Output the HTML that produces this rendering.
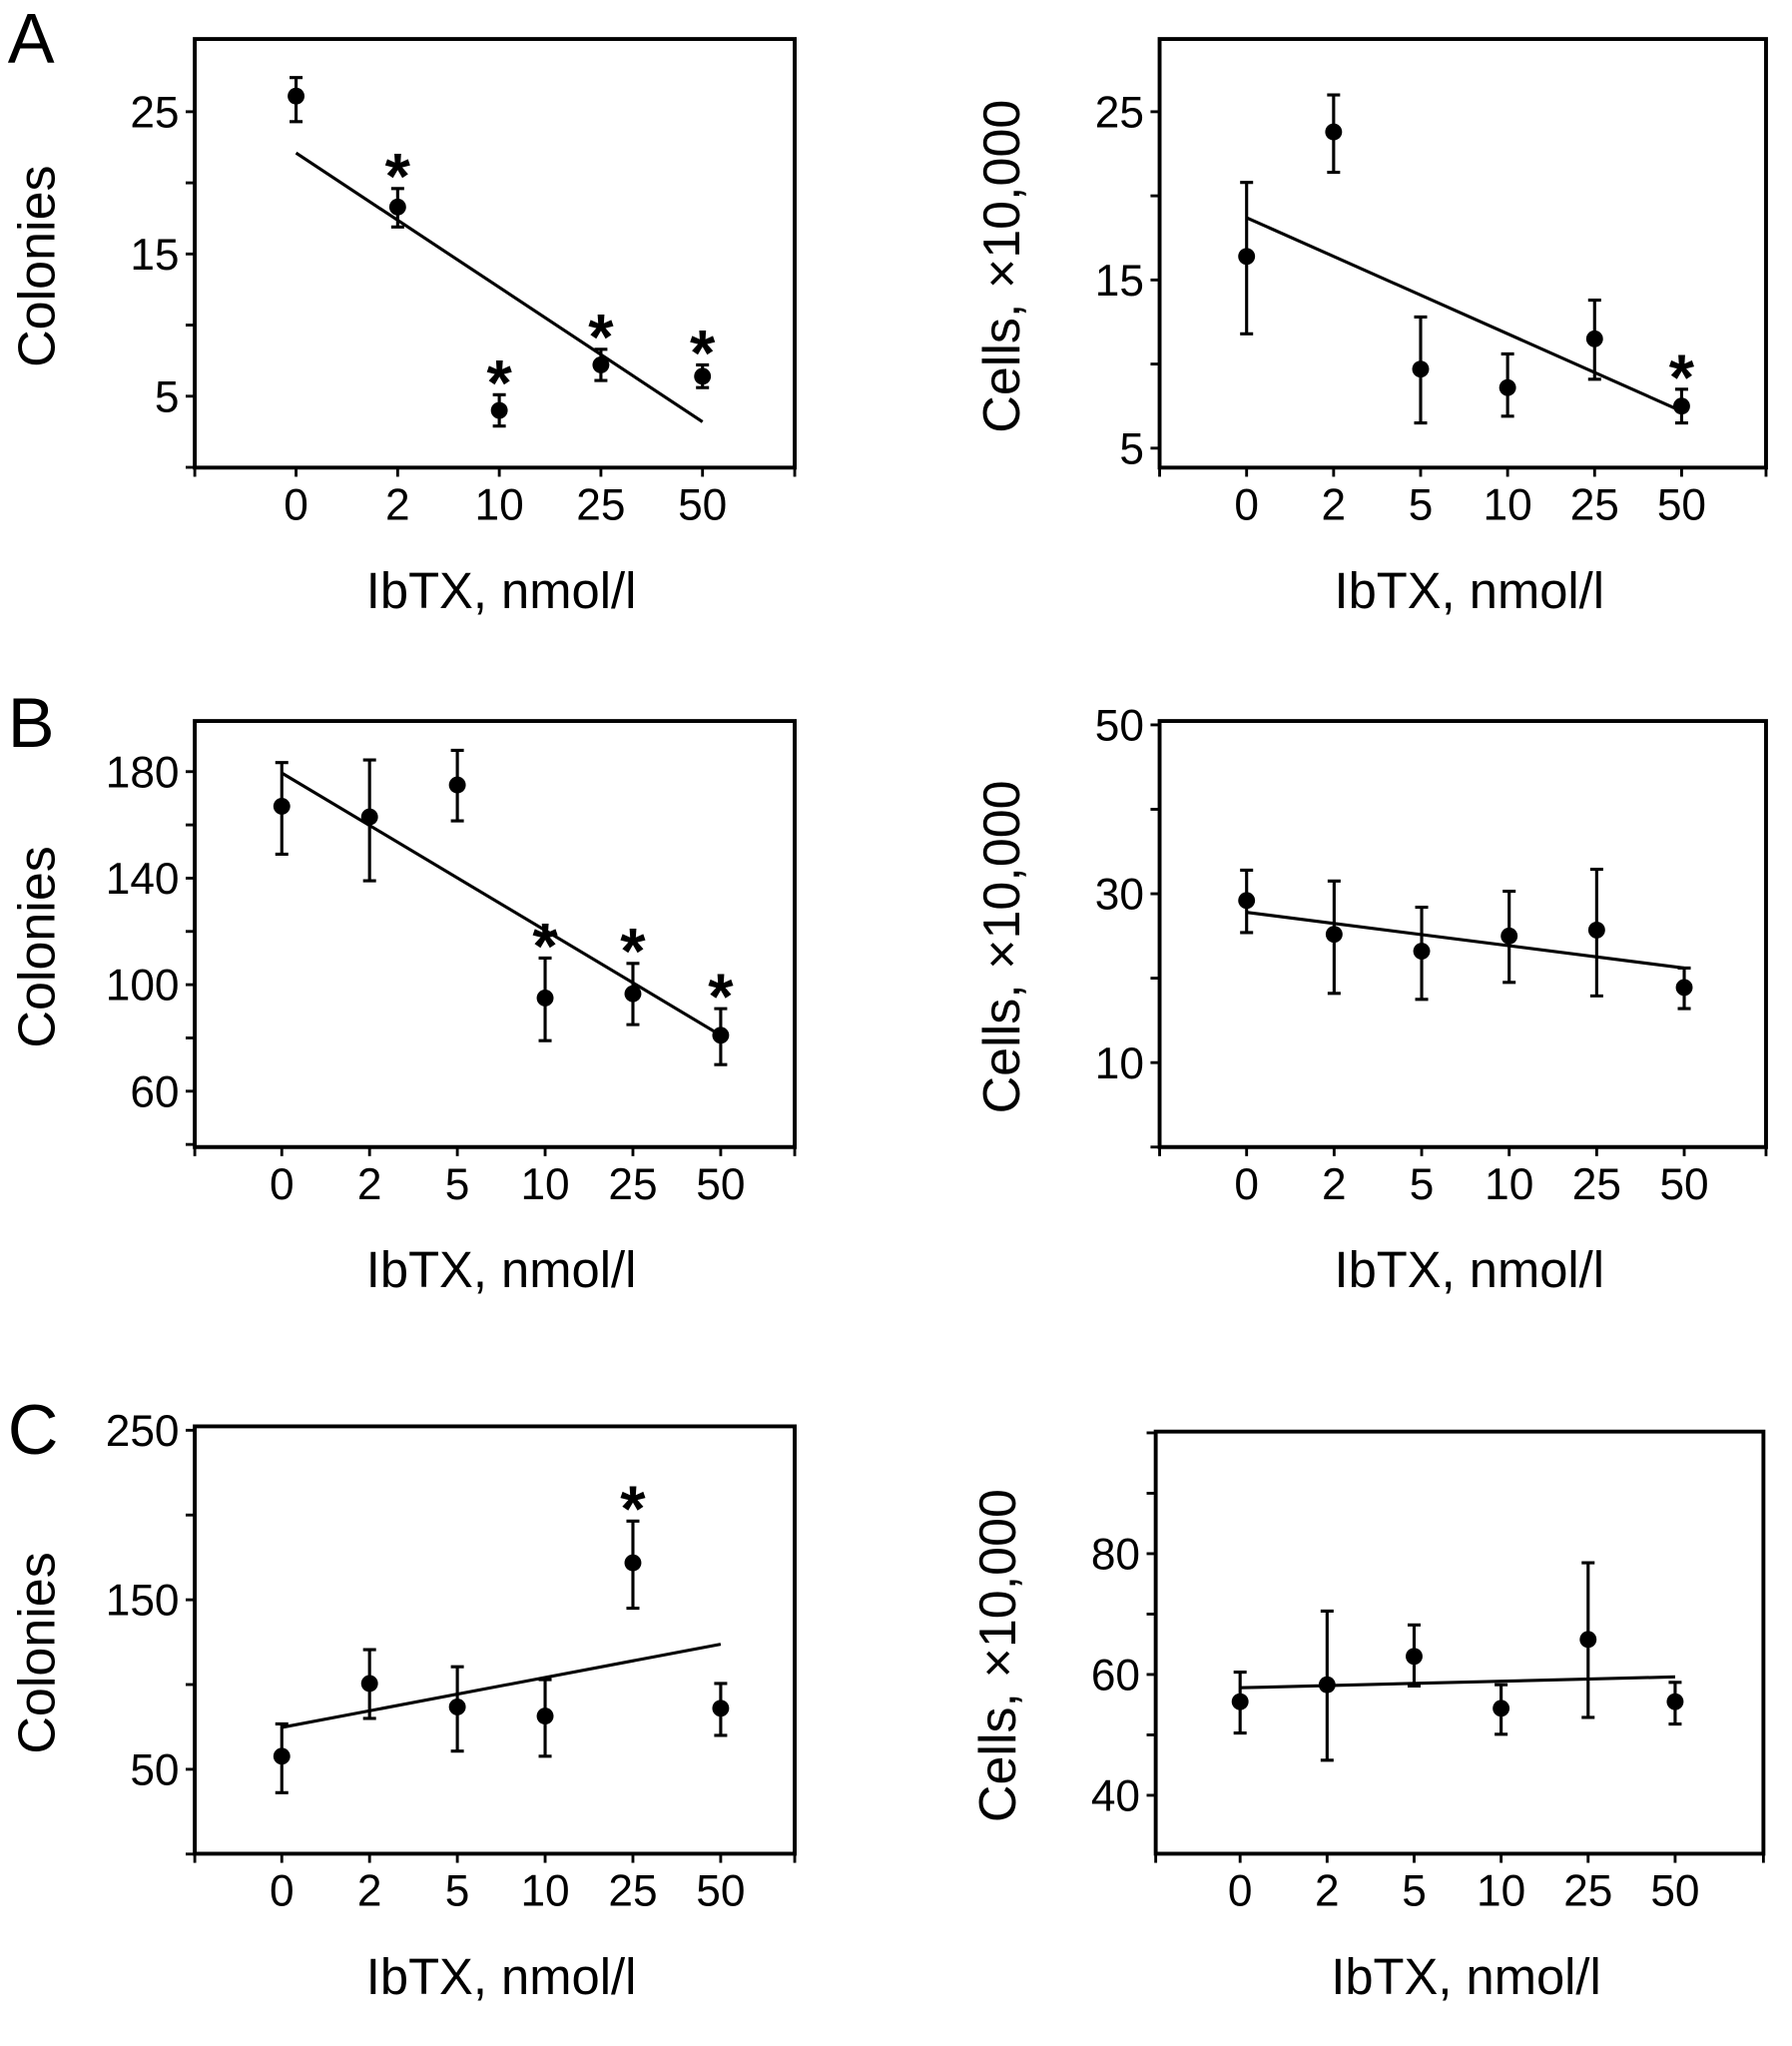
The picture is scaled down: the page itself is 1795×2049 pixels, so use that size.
<!DOCTYPE html>
<html><head><meta charset="utf-8"><style>
html,body{margin:0;padding:0;background:#fff;}
svg{display:block;font-family:"Liberation Sans",Arial,sans-serif;}
</style></head><body>
<svg id="fig" width="1795" height="2049" viewBox="0 0 1380 1575" preserveAspectRatio="none">
<text x="6" y="48" font-size="54">A</text>
<text x="6" y="575" font-size="54">B</text>
<text x="6" y="1119" font-size="54">C</text>
</svg>
<script>
const catsA1 = ["0","2","10","25","50"];
const catsFull = ["0","2","5","10","25","50"];
const valsA1 = [26.1,18.3,4.0,7.2,6.4];
const errHiA1 = [27.4,19.6,5.1,8.3,7.2];
const errLoA1 = [24.3,16.9,2.9,6.1,5.6];
const fitA1 = [22.1,3.2];
const starsA1 = [false,true,true,true,true];
const valsA2 = [16.4,23.8,9.7,8.6,11.5,7.5];
const errHiA2 = [20.8,26.0,12.8,10.6,13.8,8.5];
const errLoA2 = [11.8,21.4,6.5,6.9,9.1,6.5];
const fitA2 = [18.7,7.2];
const starsA2 = [false,false,false,false,false,true];
const valsB1 = [167,163,175,95,96.6,81];
const errHiB1 = [183.4,184.4,188,110,108,91];
const errLoB1 = [149,139,161.5,79,85,70];
const fitB1 = [179.5,81];
const starsB1 = [false,false,false,true,true,true];
const valsB2 = [29.2,25.2,23.2,25.0,25.7,18.9];
const errHiB2 = [32.8,31.5,28.4,30.3,32.9,21.2];
const errLoB2 = [25.4,18.2,17.5,19.5,17.9,16.4];
const fitB2 = [27.8,21.2];
const starsB2 = [false,false,false,false,false,false];
const valsC1 = [57.7,100.6,86.8,81.4,171.8,86];
const errHiC1 = [76.8,120.6,110.5,102.9,196.4,100.6];
const errLoC1 = [36.2,80,60.7,57.7,145,70];
const fitC1 = [74.7,123.8];
const starsC1 = [false,false,false,false,true,false];
const valsC2 = [55.5,58.3,63.0,54.4,65.8,55.5];
const errHiC2 = [60.4,70.5,68.2,58.3,78.5,58.7];
const errLoC2 = [50.3,45.8,58.1,50.1,52.9,51.8];
const fitC2 = [57.8,59.6];
const starsC2 = [false,false,false,false,false,false];
const ticksA1 = [0,5,10,15,20,25];  const labA1 = [5,15,25];
const ticksA2 = [5,10,15,20,25];    const labA2 = [5,15,25];
const ticksB1 = [40,60,80,100,120,140,160,180]; const labB1 = [60,100,140,180];
const ticksB2 = [0,10,20,30,40,50]; const labB2 = [10,30,50];
const ticksC1 = [0,50,100,150,200,250]; const labC1 = [50,150,250];
const ticksC2 = [40,50,60,70,80,90,100]; const labC2 = [40,60,80];

const NS="http://www.w3.org/2000/svg";
const svg=document.getElementById('fig');
function mk(tag,attrs,parent){const e=document.createElementNS(NS,tag);for(const k in attrs)e.setAttribute(k,attrs[k]);(parent||svg).appendChild(e);return e;}

function panel2(id,box,x0,dx,yr,cats,vals,hi,lo,fit,stars,ticks,labs,ytitle,ytx){
  const g=mk('g',{});
  
  
  const [L,T,R,B]=box, [y0v,y0p,y1v,y1p]=yr;
  const ys=v=>y0p+(v-y0v)*(y1p-y0p)/(y1v-y0v);
  const xs=i=>x0+dx*i;
  const fr=mk('path',{d:`M${L},${T}H${R}V${B}H${L}Z`,fill:'none',stroke:'#000','stroke-width':3},g);
  
  
  ticks.forEach(t=>{const y=ys(t);if(y>=T-1&&y<=B+1){const tk=mk('line',{x1:L-7,x2:L,y1:y,y2:y,stroke:'#000','stroke-width':2.2},g);
    
    }});
  labs.forEach(t=>{const tx=mk('text',{x:L-12,y:ys(t)+12,'font-size':34,'text-anchor':'end'},g);tx.textContent=t;
    
    });
  [L,R].concat(cats.map((c,i)=>xs(i))).forEach(x=>{const tk=mk('line',{x1:x,x2:x,y1:B,y2:B+7,stroke:'#000','stroke-width':2.2},g);
    
    });
  cats.forEach((c,i)=>{const tx=mk('text',{x:xs(i),y:B+40,'font-size':34,'text-anchor':'middle'},g);tx.textContent=c;
    
    });
  const xt=mk('text',{x:(L+R)/2+5,y:B+108,'font-size':39,'text-anchor':'middle'},g);xt.textContent='IbTX, nmol/l';
  
  
  const yt=mk('text',{x:0,y:0,'font-size':40,'text-anchor':'middle',transform:`translate(${ytx},${(T+B)/2+10}) rotate(-90)`},g);yt.textContent=ytitle;
  
  
  const fl=mk('line',{x1:xs(0),y1:ys(fit[0]),x2:xs(cats.length-1),y2:ys(fit[1]),stroke:'#000','stroke-width':2.4},g);
  
  
  vals.forEach((v,i)=>{const x=xs(i);
    const eb=mk('path',{d:`M${x},${ys(hi[i])}V${ys(lo[i])}M${x-5},${ys(hi[i])}H${x+5}M${x-5},${ys(lo[i])}H${x+5}`,stroke:'#000','stroke-width':2.4,fill:'none'},g);
    
    
    const c=mk('circle',{cx:x,cy:ys(v),r:6.5,fill:'#000'},g);
    
    
    if(stars[i]){const s=mk('text',{x:x,y:ys(hi[i])+8,'font-size':50,'font-weight':'bold','text-anchor':'middle'},g);s.textContent='*';
      
      }
  });
}
panel2('a-colonies',[150,30,612,360],228,78.25,[25,86,5,305],catsA1,valsA1,errHiA1,errLoA1,fitA1,starsA1,ticksA1,labA1,'Colonies',42);
panel2('a-cells',[893,30,1360,360],960,67,[25,86,5,345],catsFull,valsA2,errHiA2,errLoA2,fitA2,starsA2,ticksA2,labA2,'Cells,  \u00d710,000',785);
panel2('b-colonies',[150,555,612,883],217,67.6,[180,594,60,840],catsFull,valsB1,errHiB1,errLoB1,fitB1,starsB1,ticksB1,labB1,'Colonies',42);
panel2('b-cells',[893,555,1360,883],960,67.4,[50,558,10,818],catsFull,valsB2,errHiB2,errLoB2,fitB2,starsB2,ticksB2,labB2,'Cells,  \u00d710,000',785);
panel2('c-colonies',[150,1098,612,1427],217,67.6,[250,1101,50,1362],catsFull,valsC1,errHiC1,errLoC1,fitC1,starsC1,ticksC1,labC1,'Colonies',42);
panel2('c-cells',[890,1102,1358,1427],955,67,[80,1196,40,1382],catsFull,valsC2,errHiC2,errLoC2,fitC2,starsC2,ticksC2,labC2,'Cells,  \u00d710,000',782);
</script>
</body></html>
